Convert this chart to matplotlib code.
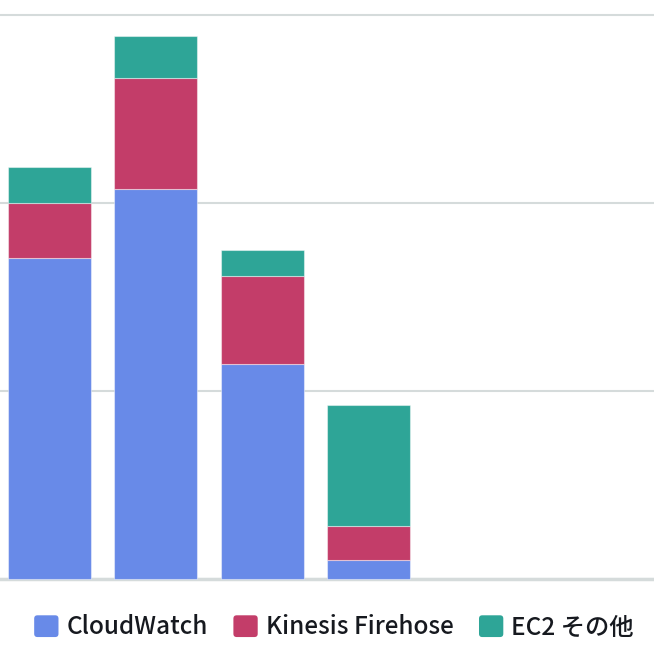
import matplotlib
matplotlib.use("Agg")
import matplotlib.pyplot as plt
from matplotlib.patches import Patch, FancyBboxPatch
from matplotlib.legend_handler import HandlerPatch

plt.rcParams['font.family'] = ['Noto Sans CJK JP', 'DejaVu Sans']

# monthly cost per service (stacked)
months = ['1月', '2月', '3月', '4月']
cloudwatch = [85.3, 103.8, 57.0, 4.8]
firehose = [14.65, 29.5, 23.4, 9.05]
ec2_other = [9.6, 11.2, 7.0, 32.3]
series_names = ['CloudWatch', 'Kinesis Firehose', 'EC2 その他']
colors = ['#688ae8', '#c33d69', '#2ea597']


class HandlerRounded(HandlerPatch):
    def create_artists(self, legend, orig_handle, xdescent, ydescent,
                       width, height, fontsize, trans):
        p = FancyBboxPatch((-xdescent, -ydescent), width, height,
                           boxstyle='round,pad=0,rounding_size=%f' % (height * 0.15),
                           facecolor=orig_handle.get_facecolor(),
                           edgecolor='none', transform=trans)
        return [p]


W, H = 654, 661
fig = plt.figure(figsize=(W / 100, H / 100), dpi=100)
pxu = (578.5 - 15) / 150.0
top_px = 15 - pxu
bot_px = 578.5 + pxu
ax = fig.add_axes([0, 1 - bot_px / H, 1, (bot_px - top_px) / H])

edge = (1, 1, 1, 0.45)
bottom2 = [a + b for a, b in zip(cloudwatch, firehose)]
ax.bar(months, cloudwatch, width=0.78, color=colors[0], edgecolor=edge, linewidth=0.8, zorder=3)
ax.bar(months, firehose, width=0.78, bottom=cloudwatch, color=colors[1], edgecolor=edge, linewidth=0.8, zorder=3)
ax.bar(months, ec2_other, width=0.78, bottom=bottom2, color=colors[2], edgecolor=edge, linewidth=0.8, zorder=3)

ax.set_xlim(-0.466, 5.68)
ax.set_ylim(-1, 151)
ax.set_yticks([0, 50, 100, 150])
ax.yaxis.grid(True, color='#d5dbdb', linewidth=1.5)
ax.axhline(0, color='#d5dbdb', linewidth=2.5, zorder=2)
ax.set_axisbelow(True)
for s in ax.spines.values():
    s.set_visible(False)
ax.tick_params(left=False, bottom=False, labelleft=False, labelbottom=False)

handles = [Patch(facecolor=c) for c in colors]
leg = fig.legend(handles, series_names, loc='center',
                 bbox_to_anchor=(334 / W, 1 - 627.5 / H), ncol=3, frameon=False,
                 prop={'size': 17.5, 'weight': 'medium'},
                 handlelength=1.0, handleheight=1.0,
                 handletextpad=0.33, columnspacing=1.05, borderaxespad=0,
                 handler_map={Patch: HandlerRounded()})
for t in leg.get_texts():
    t.set_color('#16191f')

fig.savefig('out.png', dpi=100)
